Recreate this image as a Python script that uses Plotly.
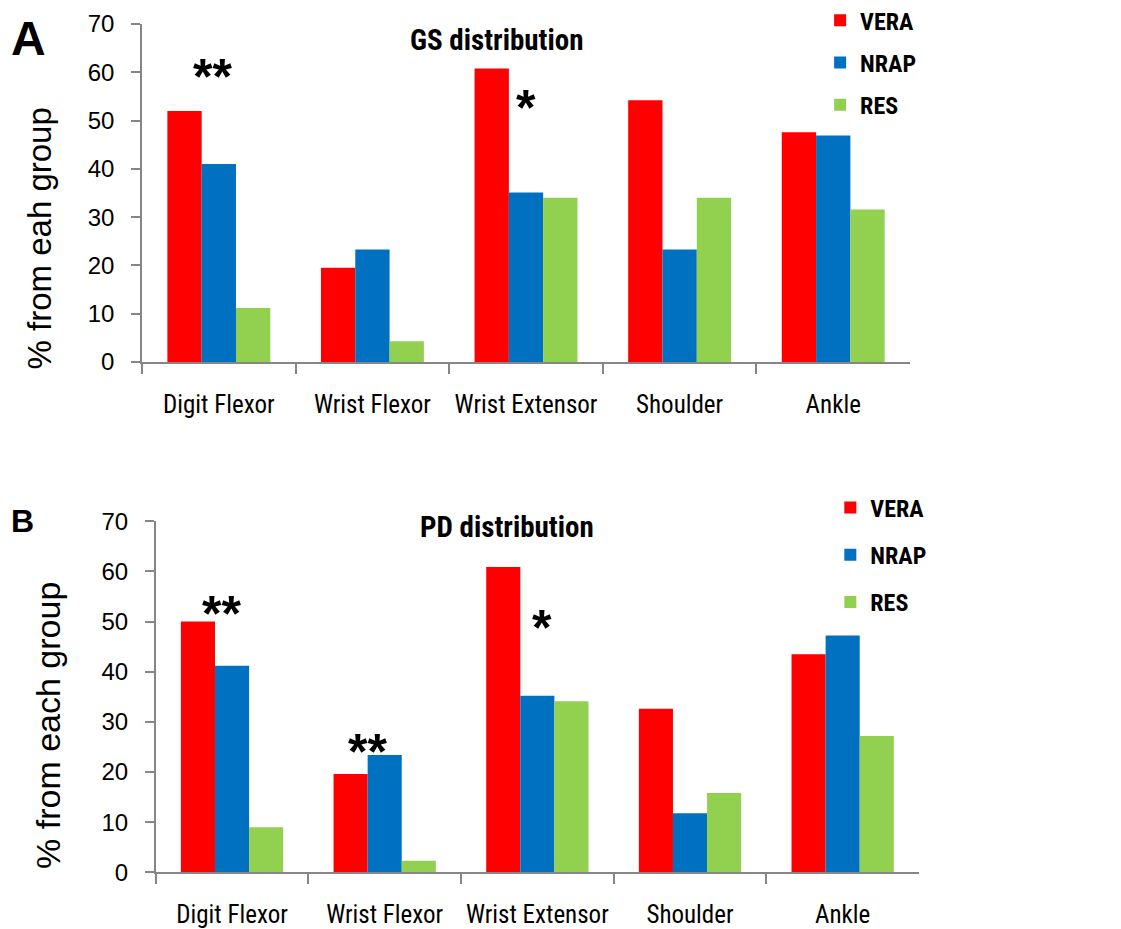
import plotly.graph_objects as go

categories = ["Digit Flexor", "Wrist Flexor", "Wrist Extensor", "Shoulder", "Ankle"]
series_names = ["VERA", "NRAP", "RES"]

gs_vera = [52.0, 19.5, 60.8, 54.2, 47.6]
gs_nrap = [41.0, 23.3, 35.1, 23.3, 46.9]
gs_res = [11.2, 4.3, 34.0, 34.0, 31.6]

pd_vera = [50.0, 19.6, 60.9, 32.6, 43.5]
pd_nrap = [41.2, 23.4, 35.2, 11.8, 47.2]
pd_res = [9.0, 2.3, 34.1, 15.8, 27.2]

y_ticks = [0, 10, 20, 30, 40, 50, 60, 70]

# significance markers: (category index offset, value, text)
sig_gs = [(-0.04, 60.0, "**"), (2.0, 53.7, "*")]
sig_pd = [(-0.07, 52.7, "**"), (0.89, 25.2, "**"), (2.03, 50.0, "*")]

colors = ["#FF0000", "#0070C0", "#92D050"]
NARROW = "Liberation Sans Narrow, Arial Narrow, Roboto Condensed, sans-serif"
REG = "Liberation Sans, Arial, sans-serif"
axis_gray = "#868686"

fig = go.Figure()

for i, (name, vals) in enumerate(zip(series_names, [gs_vera, gs_nrap, gs_res])):
    fig.add_trace(go.Bar(x=categories, y=vals, name=name, marker_color=colors[i],
                         marker_line_width=0, xaxis="x", yaxis="y",
                         legend="legend", legendgroup="a" + name))
for i, (name, vals) in enumerate(zip(series_names, [pd_vera, pd_nrap, pd_res])):
    fig.add_trace(go.Bar(x=categories, y=vals, name=name, marker_color=colors[i],
                         marker_line_width=0, xaxis="x2", yaxis="y2",
                         legend="legend2", legendgroup="b" + name))

xcommon = dict(type="category", showline=True, linecolor=axis_gray, linewidth=1.5,
               ticks="outside", tickson="boundaries", ticklen=10, tickcolor=axis_gray,
               tickwidth=1.5, showgrid=False, zeroline=False, tickangle=0, automargin=False,
               tickfont=dict(family=NARROW, size=25, color="black"),
               ticklabelstandoff=19)
ycommon = dict(range=[0, 70], tickvals=y_ticks, showline=True, linecolor=axis_gray,
               linewidth=1.5, ticks="outside", ticklen=9, tickcolor=axis_gray, tickwidth=1.5,
               showgrid=False, zeroline=False, automargin=False,
               tickfont=dict(family=REG, size=24, color="black"), ticklabelstandoff=12)

fig.update_layout(
    width=1121, height=929,
    margin=dict(l=0, r=0, t=0, b=0, autoexpand=False),
    paper_bgcolor="white", plot_bgcolor="white",
    barmode="group", bargap=0.33, bargroupgap=0,
    xaxis=dict(domain=[0.1267, 0.8118], anchor="y", **xcommon),
    yaxis=dict(domain=[0.6103, 0.9742], anchor="x", **ycommon),
    xaxis2=dict(domain=[0.1389, 0.8198], anchor="y2", **xcommon),
    yaxis2=dict(domain=[0.0610, 0.4389], anchor="x2", **ycommon),
    legend=dict(x=0.7316, y=1.002, xanchor="left", yanchor="top",
                font=dict(family=NARROW, size=24, color="black", weight="bold"),
                traceorder="grouped", tracegroupgap=8, bgcolor="rgba(0,0,0,0)",
                itemclick=False),
    legend2=dict(x=0.7407, y=0.4775, xanchor="left", yanchor="top",
                 font=dict(family=NARROW, size=24, color="black", weight="bold"),
                 traceorder="grouped", tracegroupgap=13, bgcolor="rgba(0,0,0,0)",
                 itemclick=False),
)

C = dict(xanchor="center", yanchor="middle", showarrow=False)
ann = []
ann.append(dict(text="<b>A</b>", x=0.0254, y=0.9586, xref="paper", yref="paper",
                font=dict(family=REG, size=48, color="black"), **C))
ann.append(dict(text="<b>B</b>", x=0.0205, y=0.4387, xref="paper", yref="paper",
                font=dict(family=REG, size=32, color="black"), **C))
ann.append(dict(text="<b>GS distribution</b>", x=0.4425, y=0.957, xref="paper", yref="paper",
                font=dict(family=NARROW, size=29, color="black"), **C))
ann.append(dict(text="<b>PD distribution</b>", x=0.4523, y=0.4322, xref="paper", yref="paper",
                font=dict(family=NARROW, size=29, color="black"), **C))
ann.append(dict(text="% from eah group", x=0.0348, y=0.7433, xref="paper", yref="paper",
                textangle=-90, font=dict(family=REG, size=33, color="black"), **C))
ann.append(dict(text="% from each group", x=0.0428, y=0.2196, xref="paper", yref="paper",
                textangle=-90, font=dict(family=REG, size=34, color="black"), **C))
for xv, yv, t in sig_gs:
    ann.append(dict(text="<b>" + t + "</b>", x=xv, y=yv, xref="x", yref="y", yshift=-5,
                    font=dict(family=REG, size=50, color="black"), **C))
for xv, yv, t in sig_pd:
    ann.append(dict(text="<b>" + t + "</b>", x=xv, y=yv, xref="x2", yref="y2", yshift=-6,
                    font=dict(family=REG, size=50, color="black"), **C))
fig.update_layout(annotations=ann)

fig.write_html("out.html")
